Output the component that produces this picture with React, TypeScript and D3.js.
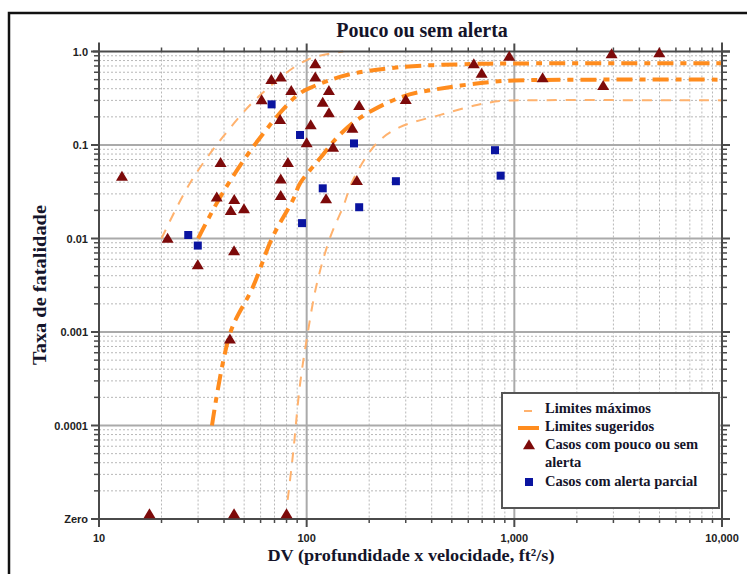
import React from "react";
import * as d3 from "d3";

// ---- data ----
const xMajorTicks = [10, 100, 1000, 10000];
const xMajorLabels = ["10", "100", "1,000", "10,000"];
const yMajorTicks = [1e-5, 1e-4, 1e-3, 1e-2, 1e-1, 1];
const yMajorLabels = ["Zero", "0.0001", "0.001", "0.01", "0.1", "1.0"];

// Limites máximos (thin)
const maxUpper: [number, number][] = [
  [20, 0.01], [27.4, 0.039], [39.5, 0.122], [59.6, 0.34], [100, 0.81], [150, 1.0],
];
const maxLower: [number, number][] = [
  [81, 1.6e-5], [86, 5e-5], [92.6, 2.6e-4], [100, 8.3e-4], [112, 0.0033], [130, 0.0104],
  [150, 0.022], [167, 0.042], [218, 0.105], [281, 0.155], [440, 0.21], [660, 0.268],
  [850, 0.295], [1000, 0.3], [10000, 0.3],
];
// Limites sugeridos (thick)
const sugUpper: [number, number][] = [
  [30, 0.01], [39.5, 0.031], [60, 0.122], [90, 0.34], [107, 0.42], [156, 0.56],
  [281, 0.68], [630, 0.735], [1000, 0.745], [10000, 0.75],
];
const sugLower: [number, number][] = [
  [35, 0.0001], [43, 0.001], [55, 0.003], [68, 0.01], [86, 0.026], [93, 0.039],
  [116, 0.072], [141, 0.122], [180, 0.194], [290, 0.33], [470, 0.41], [760, 0.47],
  [1000, 0.49], [10000, 0.5],
];

// Casos com pouco ou sem alerta (0 = "Zero")
const noWarning: [number, number][] = [
  [12.9, 0.045], [21.4, 0.0098], [29.9, 0.0051], [44.7, 0.0072], [42.7, 0.00082],
  [38.5, 0.063], [36.9, 0.027], [44.8, 0.0254], [43.1, 0.0194], [49.9, 0.0202],
  [60.7, 0.296], [67.6, 0.487], [75, 0.517], [84.3, 0.371], [74.5, 0.182],
  [81.2, 0.063], [75, 0.042], [75, 0.028], [100, 0.103], [104.6, 0.16],
  [110, 0.717], [110, 0.517], [128, 0.371], [119.5, 0.279], [128, 0.215],
  [134, 0.092], [124, 0.0258], [179, 0.257], [166, 0.147], [174.6, 0.0405],
  [300, 0.298], [638, 0.717], [696, 0.57], [945, 0.867], [1368, 0.508],
  [2678, 0.42], [2940, 0.917], [4990, 0.94],
  [17.5, 0], [44.7, 0], [80, 0],
];
// Casos com alerta parcial
const partialWarning: [number, number][] = [
  [26.9, 0.0109], [29.9, 0.0084], [67.8, 0.272], [92.9, 0.128], [95, 0.0146],
  [119.5, 0.0344], [169, 0.104], [179, 0.0216], [269, 0.041], [807, 0.088], [859, 0.047],
];

const legendItems = ["Limites máximos", "Limites sugeridos", "Casos com pouco ou sem", "alerta", "Casos com alerta parcial"];

export default function App() {
  const W = 747, H = 574;
  const x = d3.scaleLog().domain([10, 10000]).range([99, 722]);
  const y = d3.scaleLog().domain([1e-5, 1]).range([519, 51.5]);
  const yv = (v: number) => (v <= 0 ? y(1e-5) : y(v));

  const xAll = x.ticks();
  const xMinor = xAll.filter((t) => !xMajorTicks.includes(t));
  const yAll = y.ticks();
  const yMinor = yAll.filter((t) => !yMajorTicks.some((m) => Math.abs(m - t) / m < 1e-6));

  const line = d3
    .line<[number, number]>()
    .x((d) => x(d[0]))
    .y((d) => yv(d[1]))
    .curve(d3.curveCatmullRom.alpha(0.5));

  const [x0, x1] = x.range();
  const [yb, yt] = y.range();
  const axisColor = "#4a4a4a";
  const thinColor = "#ffb26e";
  const thickColor = "#ff8c1e";
  const serif = "'Liberation Serif', 'Times New Roman', serif";
  const sans = "'Liberation Sans', Arial, sans-serif";
  const textColor = "#14142a";

  const tri = (cx: number, cy: number, w = 12, h = 10) =>
    `M${cx - w / 2},${cy + h / 3} L${cx + w / 2},${cy + h / 3} L${cx},${cy - (2 * h) / 3} Z`;

  return (
    <svg width={W} height={H} style={{ position: "absolute", left: 0, top: 0, background: "#fff" }}>
      {/* frame */}
      <rect x={9} y={13} width={800} height={700} fill="none" stroke="#111" strokeWidth={2.5} />

      {/* title */}
      <text x={422} y={37} textAnchor="middle" fontFamily={serif} fontWeight="bold" fontSize={20} fill={textColor}>
        Pouco ou sem alerta
      </text>

      {/* minor grid */}
      {xMinor.map((t, i) => (
        <line key={"gx" + i} x1={x(t)} x2={x(t)} y1={yt} y2={yb} stroke="#b8b8b8" strokeWidth={1} strokeDasharray="2 2" />
      ))}
      {yMinor.map((t, i) => (
        <line key={"gy" + i} x1={x0} x2={x1} y1={y(t)} y2={y(t)} stroke="#b8b8b8" strokeWidth={1} strokeDasharray="2 2" />
      ))}
      {/* major grid */}
      {xMajorTicks.slice(1, -1).map((t, i) => (
        <line key={"Gx" + i} x1={x(t)} x2={x(t)} y1={yt} y2={yb} stroke="#aaaaaa" strokeWidth={2} />
      ))}
      {yMajorTicks.slice(1, -1).map((t, i) => (
        <line key={"Gy" + i} x1={x0} x2={x1} y1={y(t)} y2={y(t)} stroke="#aaaaaa" strokeWidth={2} />
      ))}

      {/* curves */}
      <path d={line(maxUpper) || ""} fill="none" stroke={thinColor} strokeWidth={2} strokeDasharray="10 9" />
      <path d={line(maxLower) || ""} fill="none" stroke={thinColor} strokeWidth={2} strokeDasharray="10 9" />
      <path d={line(sugUpper) || ""} fill="none" stroke={thickColor} strokeWidth={4} strokeDasharray="16 7 6 7" />
      <path d={line(sugLower) || ""} fill="none" stroke={thickColor} strokeWidth={4} strokeDasharray="16 7 6 7" />

      {/* axes */}
      <line x1={x0} x2={x0} y1={yt - 9} y2={yb + 8} stroke={axisColor} strokeWidth={2} />
      <line x1={x1} x2={x1} y1={yt - 9} y2={yb + 8} stroke={axisColor} strokeWidth={2} />
      <line x1={x0 - 6} x2={x1 + 8} y1={yb} y2={yb} stroke={axisColor} strokeWidth={2} />
      <line x1={x0 - 6} x2={x1 + 8} y1={yt} y2={yt} stroke={axisColor} strokeWidth={2} />
      {/* ticks */}
      {xMinor.map((t, i) => (
        <g key={"tx" + i}>
          <line x1={x(t)} x2={x(t)} y1={yb} y2={yb + 4} stroke={axisColor} strokeWidth={1.5} />
          <line x1={x(t)} x2={x(t)} y1={yt} y2={yt - 4} stroke={axisColor} strokeWidth={1.5} />
        </g>
      ))}
      {xMajorTicks.map((t, i) => (
        <g key={"TX" + i}>
          <line x1={x(t)} x2={x(t)} y1={yb} y2={yb + 8} stroke={axisColor} strokeWidth={2} />
          <line x1={x(t)} x2={x(t)} y1={yt} y2={yt - 8} stroke={axisColor} strokeWidth={2} />
          <text x={x(t)} y={yb + 23} textAnchor="middle" fontFamily={sans} fontWeight="bold" fontSize={11} fill="#222">
            {xMajorLabels[i]}
          </text>
        </g>
      ))}
      {yMinor.map((t, i) => (
        <g key={"ty" + i}>
          <line x1={x0} x2={x0 - 5} y1={y(t)} y2={y(t)} stroke={axisColor} strokeWidth={1.5} />
          <line x1={x1} x2={x1 + 5} y1={y(t)} y2={y(t)} stroke={axisColor} strokeWidth={1.5} />
        </g>
      ))}
      {yMajorTicks.map((t, i) => (
        <g key={"TY" + i}>
          <line x1={x0} x2={x0 - 8} y1={y(t)} y2={y(t)} stroke={axisColor} strokeWidth={2} />
          <line x1={x1} x2={x1 + 8} y1={y(t)} y2={y(t)} stroke={axisColor} strokeWidth={2} />
          <text x={x0 - 11} y={y(t) + 4} textAnchor="end" fontFamily={sans} fontWeight="bold" fontSize={11} fill="#222">
            {yMajorLabels[i]}
          </text>
        </g>
      ))}

      {/* markers */}
      {noWarning.map((d, i) => (
        <path key={"nw" + i} d={tri(x(d[0]), d[1] <= 0 ? yv(0) - 4 : yv(d[1]))} fill="#7d0a0a" />
      ))}
      {partialWarning.map((d, i) => (
        <rect key={"pw" + i} x={x(d[0]) - 4} y={yv(d[1]) - 4} width={8} height={8} fill="#0a14a0" />
      ))}

      {/* axis titles */}
      <text
        x={411}
        y={561}
        textAnchor="middle"
        fontFamily={serif}
        fontWeight="bold"
        fontSize={17}
        textLength={287}
        lengthAdjust="spacingAndGlyphs"
        fill={textColor}
      >
        DV (profundidade x velocidade, ft²/s)
      </text>
      <text
        transform="translate(46,285) rotate(-90)"
        textAnchor="middle"
        fontFamily={serif}
        fontWeight="bold"
        fontSize={18}
        textLength={160}
        lengthAdjust="spacingAndGlyphs"
        fill={textColor}
      >
        Taxa de fatalidade
      </text>

      {/* legend */}
      <rect x={502} y={393} width={217} height={115} fill="#fff" stroke="#555" strokeWidth={2} />
      <line x1={524} x2={532} y1={411} y2={411} stroke={thinColor} strokeWidth={2} />
      <line x1={518} x2={539} y1={428} y2={428} stroke={thickColor} strokeWidth={4} />
      <path d={tri(529, 446)} fill="#7d0a0a" />
      <rect x={525} y={478} width={8} height={8} fill="#0a14a0" />
      {legendItems.map((s, i) => (
        <text key={"lg" + i} x={545} y={[413, 431, 449, 467, 486][i]} fontFamily={serif} fontWeight="bold" fontSize={14.5} fill={textColor}>
          {s}
        </text>
      ))}
    </svg>
  );
}
